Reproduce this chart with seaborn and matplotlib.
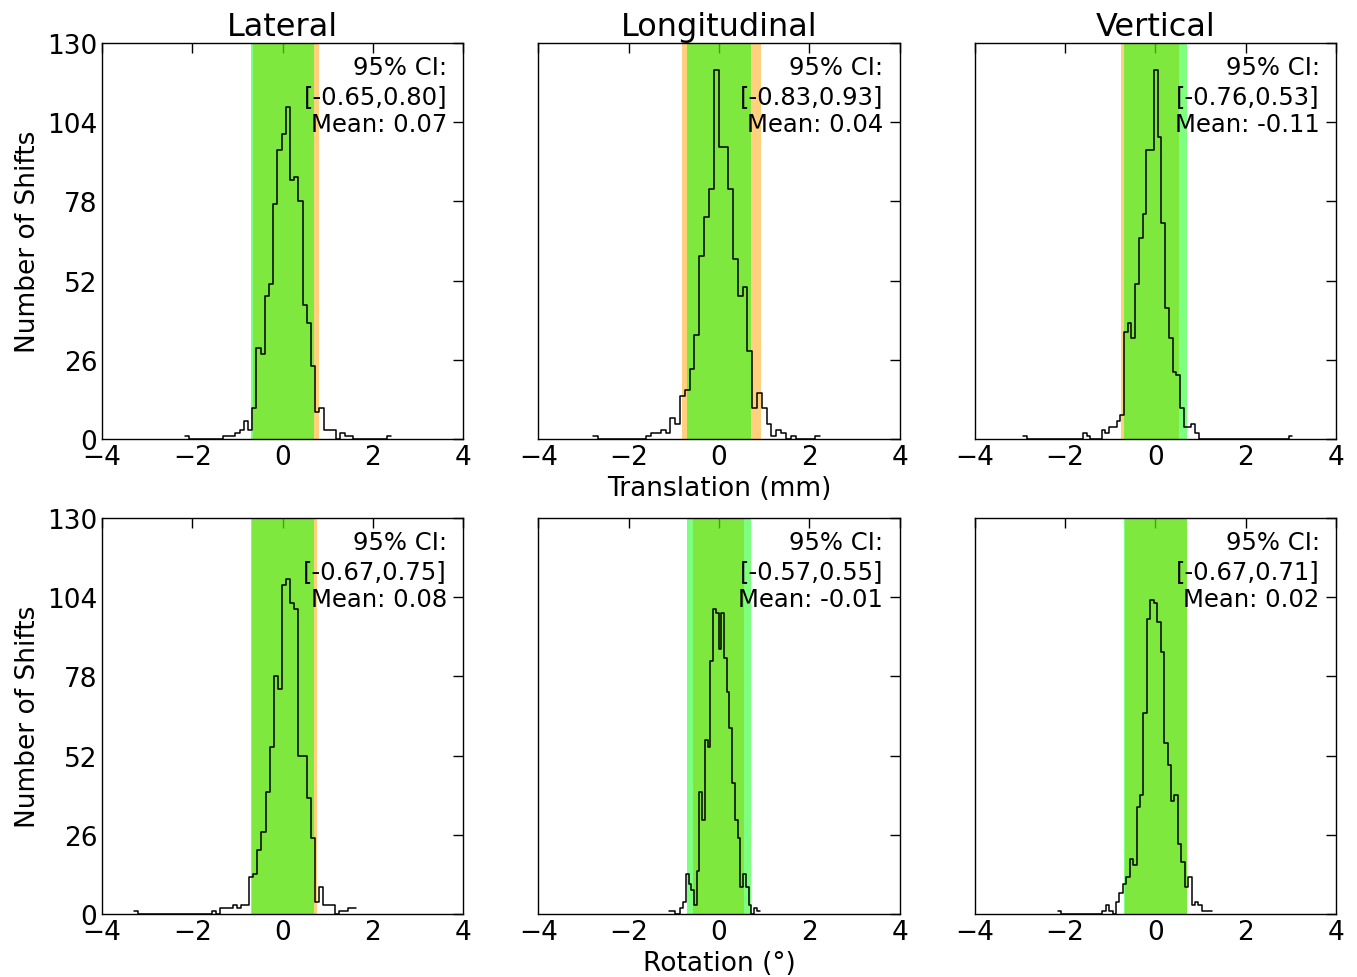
import numpy as np
import pandas as pd
import matplotlib
matplotlib.use("Agg")
import matplotlib.pyplot as plt
import seaborn as sns

col_titles = ["Lateral", "Longitudinal", "Vertical"]
row_xlabels = ["Translation (mm)", "Rotation (°)"]

# shift counts per bin (one list per panel)
trans_lat = [1, 0, 0, 0, 0, 0, 0, 0, 0, 1, 1, 1, 2, 3, 6, 3,
             10, 30, 28, 47, 51, 77, 95, 100, 109, 85, 86, 78, 44, 38, 24, 9, 10,
             3, 3, 3, 0, 2, 1, 1, 0, 0, 0, 0, 0, 0, 0, 0, 1]
trans_long = [1, 0, 0, 0, 0, 0, 0, 0, 0, 0, 0, 1, 2, 2, 3, 2, 7, 5,
              14, 16, 23, 34, 60, 73, 82, 121, 96, 96, 82, 59, 47, 50, 29, 10, 15, 10,
              5, 1, 3, 2, 0, 1, 0, 0, 0, 0, 1]
trans_vert = [1] + [0] * 15 + [2, 1, 0, 0, 0, 3, 2, 4, 4, 6, 8,
              35, 38, 33, 51, 66, 74, 95, 95, 121, 99, 71, 43, 33, 22, 21, 10,
              4, 4, 5, 2] + [0] * 24 + [1]
rot_lat = [1] + [0] * 18 + [1, 0, 2, 2, 2, 3, 2, 3, 3,
           12, 13, 21, 27, 40, 55, 78, 74, 108, 110, 102, 100, 52, 52, 38, 25, 4, 9,
           3, 3, 3, 0, 1, 1, 2, 2]
rot_long = [1, 1, 0, 0, 2, 4, 13, 10, 8, 3,
            14, 40, 31, 57, 55, 83, 100, 99, 87, 99, 84, 73, 61, 43, 31, 25,
            9, 13, 9, 3, 0, 2, 1]
rot_vert = [1] + [0] * 12 + [1, 3, 1, 0,
            4, 7, 10, 12, 18, 16, 35, 39, 66, 97, 103, 102, 96, 86, 56, 49, 37, 39,
            23, 17, 9, 12, 3, 4, 3, 1, 1, 1]

# first and last bin edge of each panel
trans_lat_range = (-2.163, 2.394)
trans_long_range = (-2.782, 2.228)
trans_vert_range = (-2.930, 3.032)
rot_lat_range = (-3.284, 1.619)
rot_long_range = (-1.099, 0.898)
rot_vert_range = (-2.163, 1.257)

ci_low = [-0.65, -0.83, -0.76, -0.67, -0.57, -0.67]
ci_high = [0.80, 0.93, 0.53, 0.75, 0.55, 0.71]
means = [0.07, 0.04, -0.11, 0.08, -0.01, 0.02]
tolerance = 0.7

panels = [(trans_lat, trans_lat_range), (trans_long, trans_long_range),
          (trans_vert, trans_vert_range), (rot_lat, rot_lat_range),
          (rot_long, rot_long_range), (rot_vert, rot_vert_range)]

sns.set_style("white")
plt.rcParams["font.family"] = ["DejaVu Sans"]
plt.rcParams["text.color"] = "black"
plt.rcParams["axes.labelcolor"] = "black"

fig, axes = plt.subplots(2, 3, figsize=(13.57, 9.78), dpi=100, sharey=True)
fig.subplots_adjust(left=0.0752, right=0.9845, bottom=0.0644, top=0.955,
                    wspace=0.208, hspace=0.2)

for i, ax in enumerate(axes.flat):
    counts, (lo, hi) = panels[i]
    nbins = len(counts)
    width = (hi - lo) / nbins
    df = pd.DataFrame({"shift": lo + width * (np.arange(nbins) + 0.5),
                       "count": counts})

    # CI band first, tolerance band on top of it
    ax.axvspan(ci_low[i], ci_high[i], color="orange", alpha=0.5, lw=0)
    ax.axvspan(-tolerance, tolerance, color="lime", alpha=0.5, lw=0)
    sns.histplot(data=df, x="shift", weights="count", bins=nbins,
                 binrange=(lo, hi), element="step", fill=False,
                 color="black", linewidth=1.1, ax=ax)

    ax.set_xlim(-4, 4)
    ax.set_ylim(0, 130)
    ax.set_xticks([-4, -2, 0, 2, 4])
    ax.set_yticks(range(0, 131, 26))
    ax.tick_params(direction="in", top=True, right=True, length=7, width=1,
                   labelsize=19, colors="black")
    for sp in ax.spines.values():
        sp.set_color("black")
        sp.set_linewidth(1)
    ax.set_xlabel("")
    ax.set_ylabel("")

    ax.text(0.955, 0.97, "95% CI:\n[{:.2f},{:.2f}]\nMean: {:.2f}".format(
        ci_low[i], ci_high[i], means[i]), transform=ax.transAxes,
        ha="right", va="top", fontsize=17.5, linespacing=1.25, color="black")

for j in range(3):
    axes[0, j].set_title(col_titles[j], fontsize=23, color="black")
for r in range(2):
    axes[r, 0].set_ylabel("Number of Shifts", fontsize=19)
    axes[r, 1].set_xlabel(row_xlabels[r], fontsize=19)

fig.savefig("out.png", dpi=100)
